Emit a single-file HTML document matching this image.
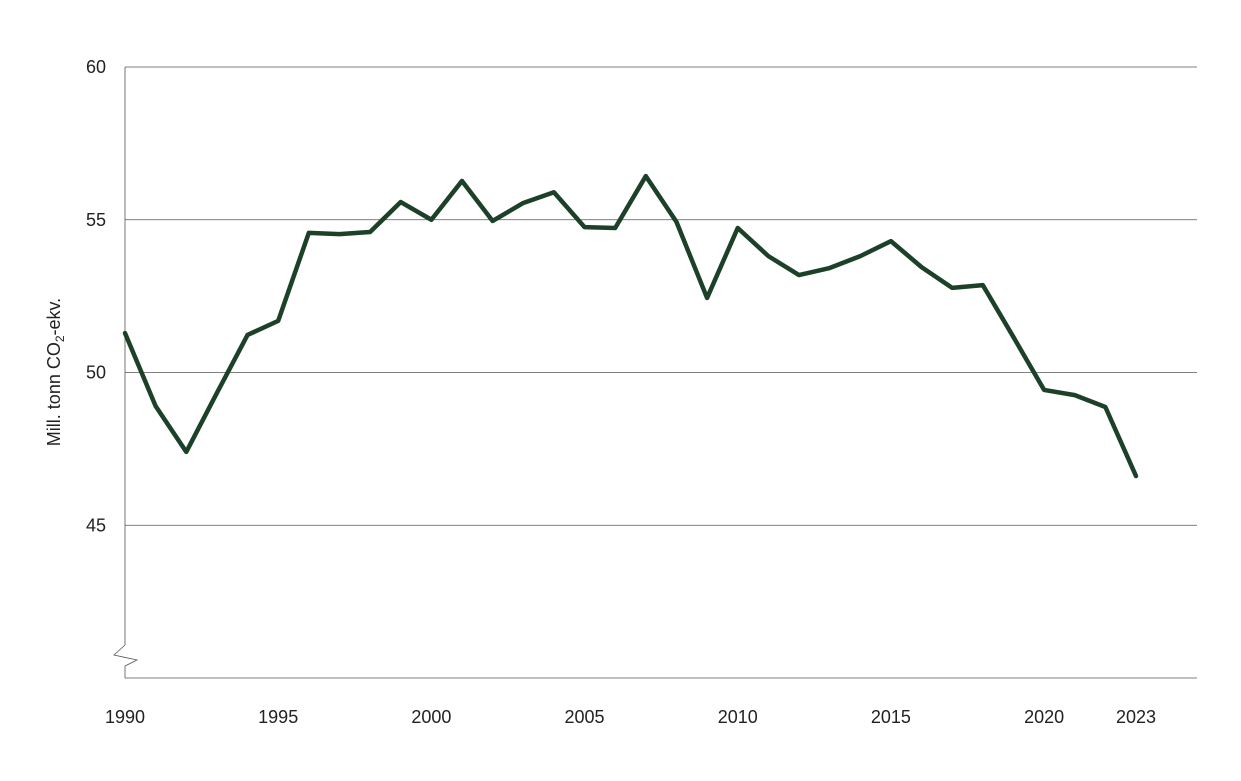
<!DOCTYPE html>
<html><head><meta charset="utf-8"><style>
html,body{margin:0;padding:0;background:#fff;}
svg{display:block;font-family:"Liberation Sans",sans-serif;}
</style></head><body>
<svg id="chart" width="1241" height="781" viewBox="0 0 1241 781"></svg>
<script>
const years=[1990,1991,1992,1993,1994,1995,1996,1997,1998,1999,2000,2001,2002,2003,2004,2005,2006,2007,2008,2009,2010,2011,2012,2013,2014,2015,2016,2017,2018,2019,2020,2021,2022,2023];
const values=[51.29,48.9,47.4,49.33,51.23,51.69,54.57,54.53,54.6,55.58,55.0,56.27,54.96,55.55,55.9,54.76,54.73,56.43,54.93,52.44,54.73,53.81,53.19,53.42,53.81,54.3,53.45,52.77,52.86,51.16,49.43,49.26,48.87,46.61];
const yTicks=[45,50,55,60];
const xTicks=[1990,1995,2000,2005,2010,2015,2020,2023];
const NS='http://www.w3.org/2000/svg';
const svg=document.getElementById('chart');
const x=v=>125+(v-1990)*(1136-125)/33;
const y=v=>678-(v-40)*(678-67)/20;
function mk(t,a){const e=document.createElementNS(NS,t);for(const k in a)e.setAttribute(k,a[k]);svg.appendChild(e);return e;}
yTicks.forEach(t=>{
 const g=mk('line',{x1:125,x2:1197,y1:y(t),y2:y(t),stroke:'#555','stroke-width':0.8});
 
 
 const l=mk('text',{x:106,y:y(t)+6,'text-anchor':'end','font-size':18,fill:'#222'});
 l.textContent=t;
 
 
});
const bx=mk('line',{x1:125,x2:1197,y1:678,y2:678,stroke:'#555','stroke-width':0.8});


const ya=mk('path',{d:'M125 67 L125 645 L114 655 L137 660 L125 666 L125 678',fill:'none',stroke:'#555','stroke-width':0.8});


xTicks.forEach(t=>{
 const l=mk('text',{x:x(t),y:723,'text-anchor':'middle','font-size':18,fill:'#222'});
 l.textContent=t;
 
 
});
const tt=mk('text',{transform:'translate(60,372) rotate(-90)','text-anchor':'middle','font-size':18,fill:'#222'});
tt.innerHTML='Mill. tonn CO<tspan font-size="12" dy="4">2</tspan><tspan dy="-4">-ekv.</tspan>';


const p=mk('polyline',{points:years.map((yr,i)=>x(yr)+','+y(values[i])).join(' '),fill:'none',stroke:'#1c4128','stroke-width':4.5,'stroke-linejoin':'round','stroke-linecap':'round'});


</script>
</body></html>
